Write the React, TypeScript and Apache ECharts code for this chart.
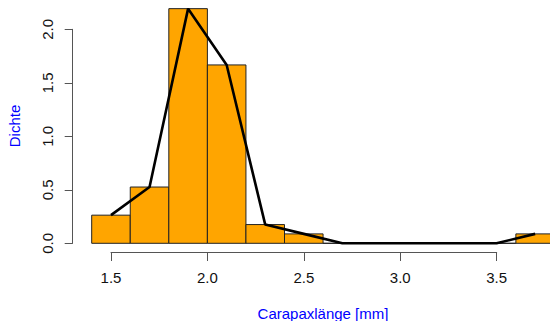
import React, { useEffect, useRef } from "react";
import * as echarts from "echarts";

// Histogram bins (lower / upper edges) and density per bin
const binStart = [1.4, 1.6, 1.8, 2.0, 2.2, 2.4, 2.6, 2.8, 3.0, 3.2, 3.4, 3.6];
const binEnd = [1.6, 1.8, 2.0, 2.2, 2.4, 2.6, 2.8, 3.0, 3.2, 3.4, 3.6, 3.8];
const density = [0.263, 0.526, 2.193, 1.667, 0.175, 0.088, 0, 0, 0, 0, 0, 0.088];
// Frequency polygon through the bin midpoints
const mids = [1.5, 1.7, 1.9, 2.1, 2.3, 2.5, 2.7, 2.9, 3.1, 3.3, 3.5, 3.7];

const xTitle = "Carapaxlänge [mm]";
const yTitle = "Dichte";

const FONT = "'Liberation Sans', Arial, sans-serif";

export default function App() {
  const ref = useRef<HTMLDivElement>(null);
  useEffect(() => {
    if (!ref.current) return;
    document.body.style.margin = "0";
    const chart = echarts.init(ref.current, null, { renderer: "svg" });
    const axisColor = "#555";
    chart.setOption({
      animation: false,
      backgroundColor: "#fff",
      grid: [
        // data area reaches the right edge; the last bin runs past it and is cut off
        { left: 91.7, right: 0, top: 7.9, bottom: 77.7 },
        { left: 111, right: 53.3, top: 200, bottom: 69 },
        { left: 72.7, width: 10, top: 29.3, bottom: 77.7 },
      ],
      xAxis: [
        { gridIndex: 0, type: "value", min: 1.4, max: 3.777, show: false },
        {
          gridIndex: 1,
          type: "value",
          min: 1.5,
          max: 3.5,
          interval: 0.5,
          position: "bottom",
          axisLine: { show: true, lineStyle: { color: axisColor, width: 1 } },
          axisTick: { show: true, length: 9, lineStyle: { color: axisColor } },
          axisLabel: {
            margin: 18,
            color: "#111",
            fontSize: 15,
            fontFamily: FONT,
            formatter: (v: number) => v.toFixed(1),
          },
          splitLine: { show: false },
        },
        { gridIndex: 2, type: "value", show: false },
      ],
      yAxis: [
        { gridIndex: 0, type: "value", min: 0, max: 2.2, show: false },
        { gridIndex: 1, type: "value", show: false },
        {
          gridIndex: 2,
          type: "value",
          min: 0,
          max: 2,
          interval: 0.5,
          position: "left",
          axisLine: { show: true, lineStyle: { color: axisColor, width: 1 } },
          axisTick: { show: true, length: 8, lineStyle: { color: axisColor } },
          axisLabel: {
            rotate: 90,
            margin: 18,
            color: "#111",
            fontSize: 15,
            fontFamily: FONT,
            formatter: (v: number) => v.toFixed(1),
          },
          splitLine: { show: false },
        },
      ],
      series: [
        {
          type: "custom",
          xAxisIndex: 0,
          yAxisIndex: 0,
          clip: false,
          data: binStart.map((s, i) => [s, binEnd[i], density[i]]),
          renderItem: (params: any, api: any) => {
            const p0 = api.coord([api.value(0), 0]);
            const p1 = api.coord([api.value(1), api.value(2)]);
            return {
              type: "rect",
              shape: { x: p0[0], y: p1[1], width: p1[0] - p0[0], height: p0[1] - p1[1] },
              style: { fill: "#FFA500", stroke: "#222", lineWidth: 1 },
            };
          },
        },
        {
          type: "line",
          xAxisIndex: 0,
          yAxisIndex: 0,
          clip: false,
          showSymbol: false,
          data: mids.map((m, i) => [m, density[i]]),
          lineStyle: { color: "#000", width: 2.6 },
        },
      ],
      graphic: [
        {
          type: "text",
          x: 323,
          y: 313,
          style: {
            text: xTitle,
            fill: "#0000FF",
            fontSize: 15,
            fontFamily: FONT,
            align: "center",
            verticalAlign: "middle",
          },
        },
        {
          type: "text",
          x: 14,
          y: 126,
          rotation: Math.PI / 2,
          style: {
            text: yTitle,
            fill: "#0000FF",
            fontSize: 15,
            fontFamily: FONT,
            align: "center",
            verticalAlign: "middle",
          },
        },
      ],
    });
    return () => chart.dispose();
  }, []);
  return <div ref={ref} style={{ width: 550, height: 321 }} />;
}
